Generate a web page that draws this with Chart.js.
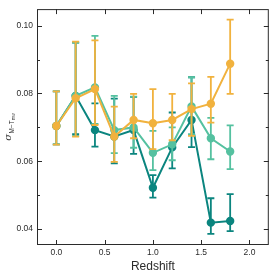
<!DOCTYPE html>
<html>
<head>
<meta charset="utf-8">
<script src="https://cdn.jsdelivr.net/npm/chart.js@4"></script>
<style>
  html, body { margin: 0; padding: 0; background: #fff; }
  #wrap { width: 274px; height: 274px; }
</style>
</head>
<body>
<div id="wrap"><canvas id="c"></canvas></div>
<script>
// Redshift bins
const redshift = [0.0, 0.2, 0.4, 0.6, 0.8, 1.0, 1.2, 1.4, 1.6, 1.8];

// dark teal series
const darkVals = [0.0704, 0.0793, 0.0692, 0.0673, 0.0692, 0.0522, 0.0641, 0.0722, 0.0419, 0.0424];
const darkLo   = [0.0650, 0.0680, 0.0643, 0.0594, 0.0622, 0.0493, 0.0579, 0.0642, 0.0386, 0.0394];
const darkHi   = [0.0806, 0.0950, 0.0771, 0.0785, 0.0790, 0.0559, 0.0744, 0.0848, 0.0491, 0.0503];

// light teal series
const lightVals = [0.0704, 0.0793, 0.0818, 0.0692, 0.0700, 0.0625, 0.0650, 0.0762, 0.0668, 0.0629];
const lightLo   = [0.0650, 0.0675, 0.0710, 0.0624, 0.0640, 0.0574, 0.0603, 0.0680, 0.0606, 0.0577];
const lightHi   = [0.0806, 0.0950, 0.0970, 0.0793, 0.0791, 0.0690, 0.0700, 0.0848, 0.0728, 0.0706];

// orange series
const orangeVals = [0.0704, 0.0786, 0.0813, 0.0673, 0.0722, 0.0712, 0.0722, 0.0754, 0.0770, 0.0888];
const orangeLo   = [0.0649, 0.0673, 0.0707, 0.0598, 0.0668, 0.0636, 0.0662, 0.0675, 0.0714, 0.0799];
const orangeHi   = [0.0806, 0.0953, 0.0957, 0.0761, 0.0799, 0.0813, 0.0799, 0.0830, 0.0849, 0.1018];

const xTicks = [0.0, 0.5, 1.0, 1.5, 2.0];
const yTicks = [0.04, 0.06, 0.08, 0.10];
const yMinorTicks = [0.05, 0.07, 0.09];

const colors = {
    dark: '#0b857f',
    light: '#55c1a0',
    orange: '#f1b23e',
    axis: '#2b2b2b'
};

function series(vals, lo, hi, color, order) {
    return {
        data: redshift.map((z, i) => ({ x: z, y: vals[i] })),
        errLo: lo,
        errHi: hi,
        borderColor: color,
        backgroundColor: color,
        pointBackgroundColor: color,
        pointBorderColor: color,
        borderWidth: 2,
        pointRadius: 3.2,
        pointHoverRadius: 3.2,
        tension: 0,
        order: order
    };
}

// error bars drawn just before each dataset's line, so a later series covers earlier ones
const errorBars = {
    id: 'errorBars',
    beforeDatasetDraw(chart, args) {
        const ds = chart.data.datasets[args.index];
        const xs = chart.scales.x, ys = chart.scales.y;
        const ctx = chart.ctx;
        ctx.save();
        ctx.strokeStyle = ds.borderColor;
        ctx.lineWidth = 1.8;
        ds.data.forEach((p, i) => {
            const px = xs.getPixelForValue(p.x);
            const top = ys.getPixelForValue(ds.errHi[i]);
            const bot = ys.getPixelForValue(ds.errLo[i]);
            ctx.beginPath();
            ctx.moveTo(px, top); ctx.lineTo(px, bot);
            ctx.moveTo(px - 3.5, top); ctx.lineTo(px + 3.5, top);
            ctx.moveTo(px - 3.5, bot); ctx.lineTo(px + 3.5, bot);
            ctx.stroke();
        });
        ctx.restore();
    }
};

// frame, inward ticks and the y label with subscripts
const frame = {
    id: 'frame',
    afterDraw(chart) {
        const { ctx, chartArea: a } = chart;
        const xs = chart.scales.x, ys = chart.scales.y;
        ctx.save();
        ctx.strokeStyle = colors.axis;
        ctx.lineWidth = 1;
        ctx.strokeRect(a.left + 0.5, a.top + 0.5, a.right - a.left - 1, a.bottom - a.top - 1);
        ctx.beginPath();
        xTicks.forEach(v => {
            const px = Math.round(xs.getPixelForValue(v)) + 0.5;
            ctx.moveTo(px, a.bottom); ctx.lineTo(px, a.bottom - 5);
            ctx.moveTo(px, a.top); ctx.lineTo(px, a.top + 5);
        });
        yTicks.forEach(v => {
            const py = Math.round(ys.getPixelForValue(v)) + 0.5;
            ctx.moveTo(a.left, py); ctx.lineTo(a.left + 5, py);
            ctx.moveTo(a.right, py); ctx.lineTo(a.right - 5, py);
        });
        yMinorTicks.forEach(v => {
            const py = Math.round(ys.getPixelForValue(v)) + 0.5;
            ctx.moveTo(a.left, py); ctx.lineTo(a.left + 3, py);
            ctx.moveTo(a.right, py); ctx.lineTo(a.right - 3, py);
        });
        ctx.stroke();

        // y label: sigma_{M-T_mw}
        const cy = (a.top + a.bottom) / 2;
        ctx.translate(11, cy);
        ctx.rotate(-Math.PI / 2);
        ctx.fillStyle = colors.axis;
        ctx.textBaseline = 'alphabetic';
        const f1 = 'italic 10px "DejaVu Serif"';
        const f2 = '6.5px "Liberation Sans"';
        const f3 = '4.5px "Liberation Sans"';
        ctx.font = f1; const w1 = ctx.measureText('σ').width;
        ctx.font = f2; const w2 = ctx.measureText('M\u2212T').width;
        ctx.font = f3; const w3 = ctx.measureText('mw').width;
        let x = -(w1 + w2 + w3 + 0.5) / 2;
        ctx.font = f1; ctx.fillText('σ', x, 0); x += w1 + 0.5;
        ctx.font = f2; ctx.fillText('M\u2212T', x, 2.5); x += w2;
        ctx.font = f3; ctx.fillText('mw', x, 4);
        ctx.restore();
    }
};

Chart.defaults.font.family = '"Liberation Sans", Arial, sans-serif';
Chart.defaults.color = colors.axis;

new Chart(document.getElementById('c'), {
    type: 'line',
    data: {
        datasets: [
            series(darkVals, darkLo, darkHi, colors.dark, 3),
            series(lightVals, lightLo, lightHi, colors.light, 2),
            series(orangeVals, orangeLo, orangeHi, colors.orange, 1)
        ]
    },
    options: {
        responsive: true,
        maintainAspectRatio: false,
        animation: false,
        events: [],
        layout: { padding: { left: 0, right: 4.5, top: 5, bottom: 0 } },
        plugins: {
            legend: { display: false },
            tooltip: { enabled: false }
        },
        scales: {
            x: {
                type: 'linear',
                min: -0.2,
                max: 2.2,
                afterBuildTicks: s => { s.ticks = xTicks.map(v => ({ value: v })); },
                afterFit: s => { s.height = 29; },
                grid: { display: false, drawTicks: false },
                border: { display: false },
                ticks: {
                    padding: 3,
                    font: { size: 8.5 },
                    maxRotation: 0,
                    callback: v => v.toFixed(1)
                },
                title: {
                    display: true,
                    text: 'Redshift',
                    font: { size: 12 },
                    padding: { top: 5, bottom: 0 }
                }
            },
            y: {
                type: 'linear',
                min: 0.0353,
                max: 0.1049,
                afterBuildTicks: s => { s.ticks = yTicks.map(v => ({ value: v })); },
                afterFit: s => { s.width = 37; },
                grid: { display: false, drawTicks: false },
                border: { display: false },
                ticks: {
                    padding: 4,
                    font: { size: 8.5 },
                    callback: v => v.toFixed(2)
                }
            }
        }
    },
    plugins: [errorBars, frame]
});
</script>
</body>
</html>
